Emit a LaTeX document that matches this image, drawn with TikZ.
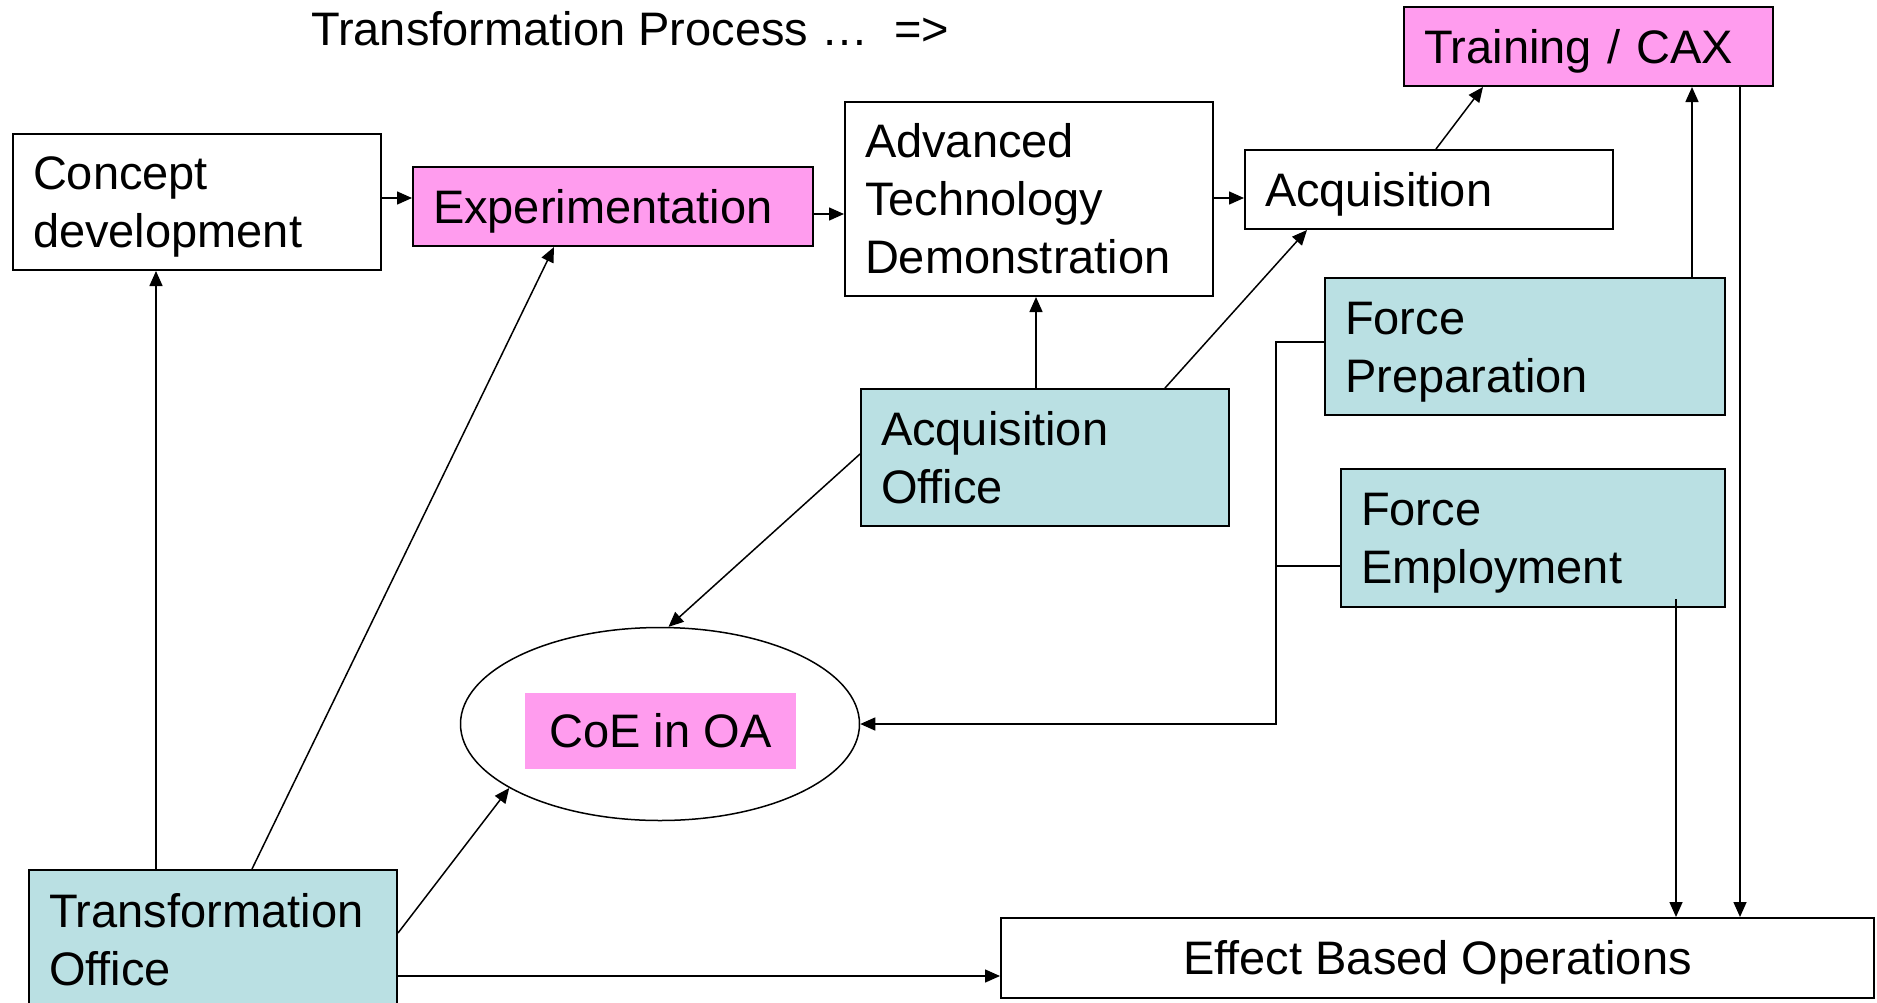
\documentclass[tikz,border=0pt]{standalone}
\usepackage{fontspec}
\setmainfont{Liberation Sans}
\usetikzlibrary{arrows.meta,calc,shapes.geometric}
\definecolor{pinkfill}{RGB}{255,156,238}
\definecolor{bluefill}{RGB}{186,224,227}
\newcommand{\lnstrut}{\rule[-10pt]{0pt}{53pt}}
\begin{document}
\begin{tikzpicture}[x=1pt,y=-1pt,
  every node/.style={font=\fontsize{47}{58}\selectfont},
  box/.style={draw=black,line width=2pt,rectangle,anchor=north west,inner xsep=20pt,inner ysep=0pt,align=left},
  arr/.style={line width=1.5pt,-{Triangle[length=15pt,width=13pt]}},
  conn/.style={line width=1.5pt}]
\useasboundingbox (0,0) rectangle (1877,1002);

% title
\node[anchor=base west,inner sep=0pt] (title) at (311,45) {Transformation Process …\ \ =>};

% boxes
\node[box,minimum width=368pt,text width=328pt,minimum height=136pt] (concept) at (12,133) {\lnstrut Concept\\\lnstrut development};
\node[box,fill=pinkfill,minimum width=400pt,text width=360pt,minimum height=79pt] (exp) at (412,166) {\lnstrut Experimentation};
\node[box,minimum width=368pt,text width=328pt,minimum height=194pt] (atd) at (844,101) {\lnstrut Advanced\\\lnstrut Technology\\\lnstrut Demonstration};
\node[box,minimum width=368pt,text width=328pt,minimum height=79pt] (acq) at (1244,149) {\lnstrut Acquisition};
\node[box,fill=pinkfill,minimum width=369pt,text width=329pt,minimum height=79pt] (train) at (1403,6) {\lnstrut Training / CAX};
\node[box,fill=bluefill,minimum width=400pt,text width=360pt,minimum height=137pt] (fp) at (1324,277) {\lnstrut Force\\\lnstrut Preparation};
\node[box,fill=bluefill,minimum width=384pt,text width=344pt,minimum height=138pt] (fe) at (1340,468) {\lnstrut Force\\\lnstrut Employment};
\node[box,fill=bluefill,minimum width=368pt,text width=328pt,minimum height=137pt] (ao) at (860,388) {\lnstrut Acquisition\\\lnstrut Office};
\node[box,fill=bluefill,minimum width=368pt,text width=328pt,minimum height=139pt] (to) at (28,869) {\lnstrut Transformation\\\lnstrut Office};
\node[draw=black,line width=2pt,anchor=north west,minimum width=873pt,minimum height=80pt,inner sep=0pt] (ebo) at (1000,917) {\lnstrut Effect Based Operations};

% ellipse
\node[ellipse,draw=black,line width=1.5pt,minimum width=399pt,minimum height=193pt,inner sep=0pt] (coe) at (660,724) {};
\node[fill=pinkfill,minimum width=271pt,minimum height=76pt,inner sep=0pt] (coetxt) at (660.5,731) {\lnstrut CoE in OA};

% connectors
\draw[arr] ($(concept.east)+(0,-4)$) -- ($(exp.west)+(0,-8.5)$);
\draw[arr] ($(exp.east)+(0,7.5)$) -- ($(atd.west)+(0,15)$);
\draw[arr] ($(atd.east)+(0,-1)$) -- ($(acq.west)+(0,8.5)$);
\draw[arr] ($(acq.north west)+(192,0)$) -- ($(train.south west)+(80,0)$);
\draw[arr] ($(to.north west)+(128,0)$) -- ($(concept.south west)+(144,0)$);
\draw[arr] ($(to.north west)+(224,0)$) -- ($(exp.south west)+(142,0)$);
\draw[arr] ($(to.north east)+(0,64)$) -- (coe.203);
\draw[arr] ($(to.north east)+(0,107)$) -- ($(ebo.north west)+(0,59)$);
\draw[arr] ($(ao.west)+(0,-3.5)$) -- (coe.85);
\draw[arr] ($(ao.north west)+(176,0)$) -- ($(atd.south west)+(192,0)$);
\draw[arr] ($(ao.north west)+(305,0)$) -- ($(acq.south west)+(63,0)$);
\draw[arr] ($(fp.north west)+(368,0)$) -- ($(train.south west)+(289,0)$);
\draw[arr] ($(train.south west)+(337,0)$) -- ($(ebo.north west)+(740,0)$);
\draw[arr] ($(fe.south west)+(336,-9)$) -- ($(ebo.north west)+(676,0)$);
\draw[arr] ($(fp.west)+(0,-4.5)$) -- ++(-48,0) |- (coe.east);
\draw[conn] ($(fe.west)+(0,28)$) -- ++(-64,0);
\end{tikzpicture}
\end{document}
